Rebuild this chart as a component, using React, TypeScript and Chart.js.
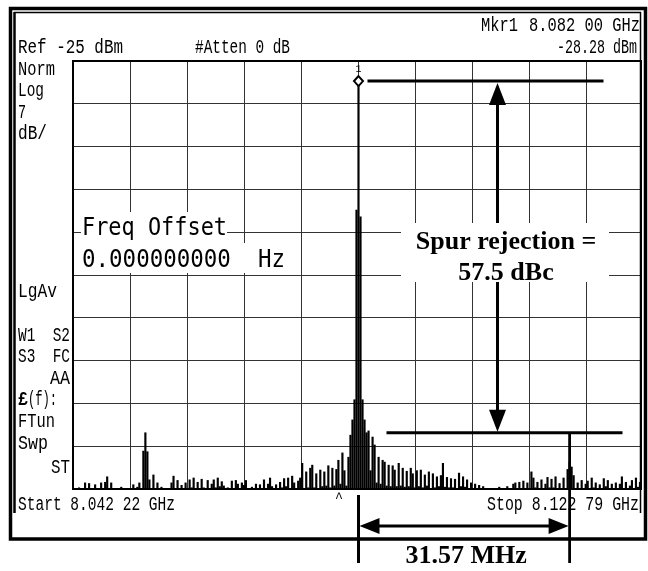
import React, { useEffect, useRef } from "react";
import { Chart, registerables } from "chart.js";
Chart.register(...registerables);

// ---- Instrument settings ----
const START_GHZ = 8.04222;
const STOP_GHZ = 8.12279;
const REF_DBM = -25;
const DB_PER_DIV = 7;
const DIVISIONS = 10;
const MARKER_DBM = -28.28;
const SPUR_REJECTION_DB = 57.5;
const SPUR_OFFSET_MHZ = 31.57;

// ---- Trace (dBm), one value per sweep point ----
const LEVELS_DBM = [
  -97, -95.5, -96, -94.8, -96, -95, -94.0, -96, -94.1, -95.5,
  -96, -94.3, -96, -95.2, -94.0, -96, -93.9, -93.0, -95.5, -94.0,
  -95.5, -97, -97, -97, -94.7, -97, -97, -97, -97, -97,
  -94.3, -95.5, -94.7, -94.0, -95.2, -88.8, -85.8, -88.9, -93.5, -95.2,
  -92.7, -95.5, -94.0, -96, -94.7, -97, -97, -97, -95.5, -94.0,
  -92.9, -95, -93.6, -95.5, -94.4, -96, -94.0, -95, -93.5, -94.8,
  -93.2, -95, -93.9, -95, -93.4, -94.8, -95.3, -93.6, -95, -94.2,
  -93.5, -94.8, -93.2, -94.6, -93.8, -94.5, -96, -94.8, -95.5, -93.7,
  -95, -93.6, -94.2, -95.3, -94.0, -94.4, -93.6, -95.5, -96, -94.7,
  -95.5, -94.2, -95.6, -94.3, -95.2, -93.5, -95, -94.2, -93.2, -94.6,
  -95, -94.3, -95.2, -93.9, -94.8, -93.3, -94.6, -93.2, -95, -92.9,
  -94.0, -95.5, -93.7, -93.2, -90.8, -95, -92.2, -94.8, -91.6, -91.1,
  -94.8, -92.5, -95.0, -91.9, -94.6, -92.2, -94.5, -91.2, -94.8, -91.6,
  -94.5, -91.8, -90.3, -94.2, -89.1, -92.0, -94.5, -89.8, -86.2, -83.7,
  -80.4, -49.4, -28.28, -50.5, -80.4, -83.7, -85.8, -85.5, -92, -86.5,
  -87.8, -94.0, -89.8, -94.2, -90.3, -90.6, -94.5, -91.1, -94.6, -91.2,
  -91.9, -94.6, -90.8, -94.5, -91.6, -94.7, -92.1, -94.6, -91.6, -92.5,
  -94.8, -92.0, -94.6, -91.9, -94.8, -92.7, -94.5, -92.2, -94.9, -92.5,
  -94.8, -93.0, -94.6, -92.8, -90.8, -94.7, -93.1, -94.8, -93.3, -94.8,
  -93.4, -94.9, -92.4, -94.6, -93.0, -94.7, -93.5, -95.2, -94.0, -95.5,
  -94.2, -96, -94.4, -95.5, -94.6, -96, -97, -97, -97, -97,
  -97, -97, -94.7, -97, -97, -97, -94.6, -97, -96, -94.2,
  -94.0, -95.5, -93.9, -95.6, -93.7, -95.4, -94.0, -95.5, -92.2, -93.2,
  -94.8, -93.9, -95.2, -93.5, -95, -94.2, -93.1, -94.8, -93.4, -94.8,
  -93.0, -95, -94.1, -95.2, -93.2, -95.2, -91.8, -90.6, -91.4, -92.8,
  -95.3, -94.0, -95, -93.6, -95.2, -94.2, -93.7, -95.3, -93.2, -94.8,
  -94.0, -95.3, -94.3, -95.5, -93.3, -94.6, -93.6, -95, -94.2, -95.5,
  -94.0, -95, -94.2, -93.0, -95.3, -93.9, -95, -94.5, -93.6, -95.2,
  -93.2, -94.7, -93.9, -94.6, -95,
];

// Sweep points are evenly spaced between start and stop.
const FREQS_GHZ = LEVELS_DBM.map(
  (_, i) => START_GHZ + (i * (STOP_GHZ - START_GHZ)) / (LEVELS_DBM.length - 1)
);
const X_TICKS = Array.from({ length: DIVISIONS + 1 }, (_, k) => START_GHZ + (k * (STOP_GHZ - START_GHZ)) / DIVISIONS);
const BOTTOM_DBM = REF_DBM - DB_PER_DIV * DIVISIONS;
const Y_TICKS = Array.from({ length: DIVISIONS + 1 }, (_, k) => BOTTOM_DBM + k * DB_PER_DIV);

const HP_FONT = '"Liberation Mono", "DejaVu Sans Mono", monospace';
const HP_BIG = '"DejaVu Sans Mono", "Liberation Mono", monospace';
const SERIF = '"Liberation Serif", "Times New Roman", serif';

function hpText(ctx: CanvasRenderingContext2D, text: string, x: number, base: number, width: number, align: "left" | "right" = "left", size = 20, weight = "normal", family = HP_FONT) {
  ctx.save();
  ctx.font = `${weight} ${size}px ${family}`;
  ctx.textBaseline = "alphabetic";
  ctx.textAlign = "left";
  const w = ctx.measureText(text).width;
  const sx = width / w;
  const left = align === "left" ? x : x - width;
  ctx.translate(left, base);
  ctx.scale(sx, 1);
  ctx.fillStyle = "#000";
  ctx.fillText(text, 0, 0);
  ctx.restore();
}

function arrowHead(ctx: CanvasRenderingContext2D, tx: number, ty: number, dx: number, dy: number, len: number, half: number) {
  const bx = tx - dx * len;
  const by = ty - dy * len;
  const px = -dy;
  const py = dx;
  ctx.beginPath();
  ctx.moveTo(tx, ty);
  ctx.lineTo(bx + px * half, by + py * half);
  ctx.lineTo(bx - px * half, by - py * half);
  ctx.closePath();
  ctx.fill();
}

function line(ctx: CanvasRenderingContext2D, x1: number, y1: number, x2: number, y2: number, w: number) {
  ctx.lineWidth = w;
  ctx.beginPath();
  ctx.moveTo(x1, y1);
  ctx.lineTo(x2, y2);
  ctx.stroke();
}

const screenPlugin = {
  id: "screen",
  beforeDraw(chart: any) {
    const ctx = chart.ctx as CanvasRenderingContext2D;
    ctx.save();
    ctx.fillStyle = "#fff";
    ctx.fillRect(0, 0, chart.width, chart.height);
    ctx.restore();
  },
  afterDraw(chart: any) {
    const ctx = chart.ctx as CanvasRenderingContext2D;
    const a = chart.chartArea;
    const xs = chart.scales.x;
    const ys = chart.scales.y;

    let peakIdx = 0;
    LEVELS_DBM.forEach((v, i) => { if (v > LEVELS_DBM[peakIdx]) peakIdx = i; });
    let spurIdx = peakIdx + 50;
    for (let i = peakIdx + 50; i < LEVELS_DBM.length; i++) if (LEVELS_DBM[i] > LEVELS_DBM[spurIdx]) spurIdx = i;

    const xPeak = xs.getPixelForValue(FREQS_GHZ[peakIdx]);
    const xSpur = xs.getPixelForValue(FREQS_GHZ[spurIdx]);
    const yTop = ys.getPixelForValue(MARKER_DBM);
    const yBot = ys.getPixelForValue(MARKER_DBM - SPUR_REJECTION_DB);

    ctx.save();
    ctx.fillStyle = "#fff";
    // text backgrounds
    ctx.fillRect(81, 212, 146, 31);
    ctx.fillRect(75, 243, 215, 30);
    ctx.fillRect(401, 223, 208, 59);
    ctx.fillRect(641.5, a.top - 1, a.right - 641.5 + 2, a.bottom - a.top + 2);

    // plot border
    ctx.strokeStyle = "#000";
    ctx.lineWidth = 2;
    ctx.strokeRect(a.left, a.top, 641 - a.left, a.bottom - a.top);

    // screen frame
    ctx.lineWidth = 3.5;
    ctx.strokeRect(10.5, 8.5, 635, 530.5);
    line(ctx, 14.5, 12, 14.5, 513, 2.5);
    line(ctx, 14, 12.5, 641, 12.5, 1.5);
    line(ctx, 640.5, 12, 640.5, 513, 1.5);

    // instrument annotations
    hpText(ctx, "Ref -25 dBm", 18, 53, 105);
    hpText(ctx, "#Atten 0 dB", 195, 53, 95);
    hpText(ctx, "Mkr1", 481, 31, 37);
    hpText(ctx, "8.082 00 GHz", 529, 31, 111);
    hpText(ctx, "-28.28 dBm", 637, 53, 80, "right");
    hpText(ctx, "Norm", 18, 75, 37);
    hpText(ctx, "Log", 18, 96, 26);
    hpText(ctx, "7", 18, 118, 8);
    hpText(ctx, "dB/", 18, 139, 29);
    hpText(ctx, "LgAv", 18, 297, 39);
    hpText(ctx, "W1  S2", 18, 341, 52);
    hpText(ctx, "S3  FC", 18, 362, 52);
    hpText(ctx, "AA", 70, 384, 20, "right");
    hpText(ctx, "\u00a3", 18, 405, 10, "left", 20, "bold");
    hpText(ctx, "(f):", 28, 405, 29);
    hpText(ctx, "FTun", 18, 427, 37);
    hpText(ctx, "Swp", 18, 449, 30);
    hpText(ctx, "ST", 70, 473, 19, "right");
    hpText(ctx, "Start 8.042 22 GHz", 18, 510, 157);
    hpText(ctx, "Stop 8.122 79 GHz", 639, 510, 152, "right");
    hpText(ctx, "^", 335, 502, 8, "left", 14);
    hpText(ctx, "Freq Offset", 82, 235, 145, "left", 24, "normal", HP_BIG);
    hpText(ctx, "0.000000000  Hz", 82, 267, 203, "left", 24, "normal", HP_BIG);

    // marker
    ctx.fillStyle = "#000";
    ctx.font = `10px ${HP_FONT}`;
    ctx.textAlign = "center";
    ctx.fillText("1", xPeak, yTop - 9);
    ctx.beginPath();
    ctx.moveTo(xPeak, yTop - 5);
    ctx.lineTo(xPeak + 4.5, yTop);
    ctx.lineTo(xPeak, yTop + 5);
    ctx.lineTo(xPeak - 4.5, yTop);
    ctx.closePath();
    ctx.fillStyle = "#fff";
    ctx.fill();
    ctx.lineWidth = 2;
    ctx.stroke();

    // spur rejection dimension
    ctx.fillStyle = "#000";
    ctx.lineCap = "butt";
    line(ctx, xPeak + 9, yTop, xPeak + 245, yTop, 3);
    line(ctx, xPeak + 28, yBot, xPeak + 264, yBot, 3);
    const ax = xPeak + 139;
    arrowHead(ctx, ax, yTop + 2, 0, -1, 22, 8.5);
    arrowHead(ctx, ax, yBot - 1, 0, 1, 22, 8.5);
    line(ctx, ax, yTop + 20, ax, 223, 3);
    line(ctx, ax, 282, ax, yBot - 20, 3);

    // offset dimension
    line(ctx, xSpur, yBot, xSpur, 563, 2.8);
    line(ctx, xPeak, a.bottom + 6, xPeak, 563, 3);
    const ay = 526;
    line(ctx, xPeak + 18, ay, xSpur - 18, ay, 3);
    arrowHead(ctx, xPeak + 1, ay, -1, 0, 20, 8);
    arrowHead(ctx, xSpur - 1, ay, 1, 0, 20, 8);

    ctx.font = `bold 26px ${SERIF}`;
    ctx.textAlign = "center";
    ctx.textBaseline = "alphabetic";
    ctx.fillText("Spur rejection =", 506, 249);
    ctx.fillText(`${SPUR_REJECTION_DB} dBc`, 506, 280);
    ctx.fillText(`${SPUR_OFFSET_MHZ} MHz`, (xPeak + xSpur) / 2 + 2, 563);
    ctx.restore();
  },
};

export default function App() {
  const ref = useRef<HTMLCanvasElement>(null);
  useEffect(() => {
    const canvas = ref.current!;
    const chart = new Chart(canvas, {
      type: "bar",
      data: {
        datasets: [
          {
            data: FREQS_GHZ.map((f, i) => ({ x: f, y: LEVELS_DBM[i] })),
            base: BOTTOM_DBM,
            backgroundColor: "#000",
            borderWidth: 0,
            barThickness: 1.5,
          },
        ],
      },
      options: {
        responsive: false,
        animation: false,
        devicePixelRatio: 1,
        events: [],
        layout: { padding: { left: 73, top: 61, right: 4, bottom: 82 } },
        plugins: { legend: { display: false }, tooltip: { enabled: false } },
        scales: {
          x: {
            type: "linear",
            offset: false,
            min: START_GHZ,
            max: STOP_GHZ,
            afterBuildTicks: (s: any) => { s.ticks = X_TICKS.map((v) => ({ value: v })); },
            ticks: { display: false },
            grid: { color: "#333", lineWidth: 1, drawTicks: false, offset: false },
            border: { display: false },
          },
          y: {
            type: "linear",
            min: BOTTOM_DBM,
            max: REF_DBM,
            afterBuildTicks: (s: any) => { s.ticks = Y_TICKS.map((v) => ({ value: v })); },
            ticks: { display: false },
            grid: { color: "#333", lineWidth: 1, drawTicks: false },
            border: { display: false },
          },
        },
      } as any,
      plugins: [screenPlugin],
    });
    return () => chart.destroy();
  }, []);
  return (
    <div style={{ position: "fixed", left: 0, top: 0, width: 648, height: 571, background: "#fff" }}>
      <canvas ref={ref} width={648} height={571} style={{ display: "block", width: 648, height: 571 }} />
    </div>
  );
}
